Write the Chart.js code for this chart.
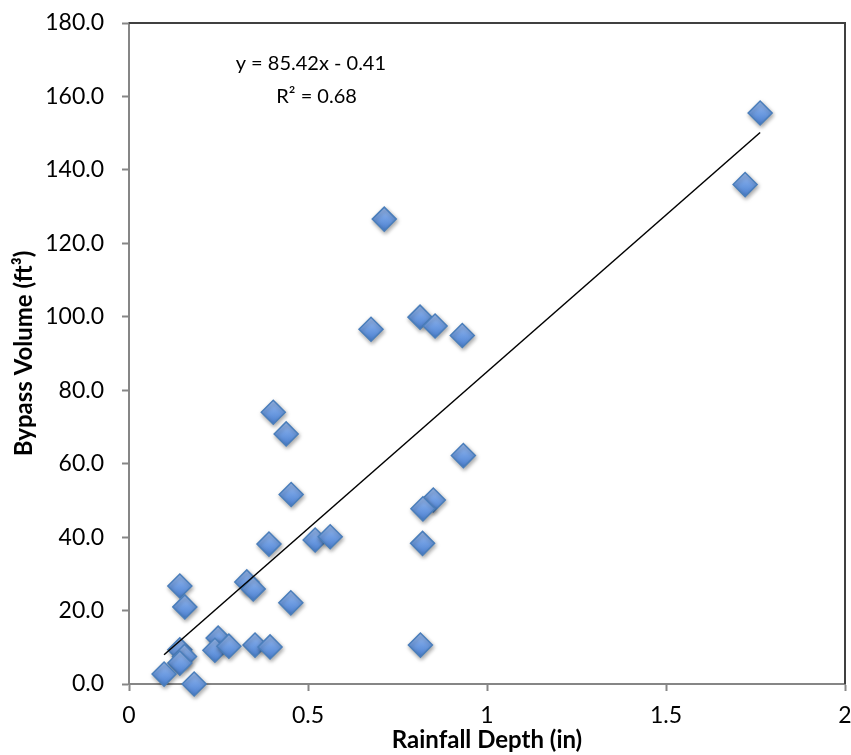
<!DOCTYPE html>
<html>
<head>
<meta charset="utf-8">
<title>Bypass Volume vs Rainfall Depth</title>
<script src="https://cdn.jsdelivr.net/npm/chart.js@4/dist/chart.umd.min.js"></script>
<style>
    html, body { margin: 0; padding: 0; background: #ffffff; }
    #wrap { width: 851px; height: 755px; }
</style>
</head>
<body>
<div id="wrap"><canvas id="chart-bypass" width="851" height="755"></canvas></div>
<script>
// ============================================================
// Data
// ============================================================
const rainfallDepth = [
    1.763, 1.721, 0.713, 0.676, 0.813, 0.855, 0.931, 0.403,
    0.439, 0.934, 0.453, 0.850, 0.821, 0.391, 0.820, 0.520,
    0.562, 0.329, 0.347, 0.142, 0.156, 0.452, 0.814, 0.352,
    0.394, 0.249, 0.240, 0.279, 0.142, 0.155, 0.142, 0.098, 0.182
];
const bypassVolume = [
    155.5, 136.0, 126.6, 96.6, 99.9, 97.5, 94.9, 74.0,
    68.1, 62.2, 51.6, 50.1, 47.7, 38.1, 38.3, 39.2,
    40.1, 27.8, 25.9, 26.7, 21.0, 22.1, 10.6, 10.6,
    10.1, 12.5, 9.2, 10.3, 9.3, 7.5, 5.7, 2.7, 0.0
];

// linear trendline (from the chart's equation)
const trendSlope = 85.42;
const trendIntercept = -0.41;
const trendLabels = ['y = 85.42x - 0.41', 'R\u00b2 = 0.68'];

const xTicks = [0, 0.5, 1, 1.5, 2];
const yTicks = [0, 20, 40, 60, 80, 100, 120, 140, 160, 180];

// ============================================================
// Build chart
// ============================================================
function buildPoints() {
    return rainfallDepth.map((x, i) => ({ x: x, y: bypassVolume[i] }));
}

function buildTrend() {
    const minX = Math.min(...rainfallDepth);
    const maxX = Math.max(...rainfallDepth);
    return [minX, maxX].map(x => ({ x: x, y: trendSlope * x + trendIntercept }));
}

// diamond fill: light blue on top, darker at the bottom
function diamondFill(context) {
    const chart = context.chart;
    if (!chart.chartArea || context.type !== 'data') return '#6b9be0';
    const y = chart.scales.y.getPixelForValue(context.raw.y);
    const g = chart.ctx.createLinearGradient(0, y - 12, 0, y + 12);
    g.addColorStop(0, '#9dbdf0');
    g.addColorStop(0.5, '#6f9de2');
    g.addColorStop(1, '#4a7fcf');
    return g;
}

// soft shadow under the diamonds
const shadowPlugin = {
    id: 'shadow',
    beforeDatasetDraw(chart, args) {
        if (args.index !== 1) return;
        const ctx = chart.ctx;
        ctx.save();
        ctx.shadowColor = 'rgba(0,0,0,0.35)';
        ctx.shadowBlur = 4;
        ctx.shadowOffsetX = 1;
        ctx.shadowOffsetY = 2;
    },
    afterDatasetDraw(chart, args) {
        if (args.index !== 1) return;
        chart.ctx.restore();
    }
};

// top and right edges of the plot area + trendline equation
const framePlugin = {
    id: 'frame',
    afterDraw(chart) {
        const ctx = chart.ctx;
        const a = chart.chartArea;
        ctx.save();
        ctx.strokeStyle = '#404040';
        ctx.lineWidth = 2;
        ctx.beginPath();
        ctx.moveTo(a.left, a.top);
        ctx.lineTo(a.right, a.top);
        ctx.lineTo(a.right, a.bottom);
        ctx.stroke();

        ctx.fillStyle = '#000000';
        ctx.font = '20px Lato, "Open Sans", sans-serif';
        ctx.textAlign = 'center';
        ctx.textBaseline = 'middle';
        const xs = chart.scales.x, ys = chart.scales.y;
        ctx.fillText(trendLabels[0], xs.getPixelForValue(0.508), ys.getPixelForValue(169.0));
        ctx.fillText(trendLabels[1], xs.getPixelForValue(0.524), ys.getPixelForValue(160.0));
        ctx.restore();
    }
};

function createChart() {
    const ctx = document.getElementById('chart-bypass').getContext('2d');
    const tickFont = { family: 'Lato, "Open Sans", sans-serif', size: 23 };
    const titleFont = { family: 'Lato, "Open Sans", sans-serif', size: 24, weight: 'bold' };

    new Chart(ctx, {
        type: 'scatter',
        data: {
            datasets: [{
                type: 'line',
                label: 'Linear',
                data: buildTrend(),
                borderColor: '#000000',
                borderWidth: 1.5,
                pointRadius: 0,
                fill: false
            }, {
                label: 'Bypass Volume',
                data: buildPoints(),
                pointStyle: 'rectRot',
                pointRadius: 12,
                pointHoverRadius: 12,
                pointBackgroundColor: diamondFill,
                pointBorderColor: '#4a7ebb',
                pointBorderWidth: 1.5,
                clip: false
            }]
        },
        options: {
            responsive: false,
            animation: false,
            layout: { autoPadding: false, padding: { left: 0, top: 23, right: 6, bottom: 0 } },
            plugins: {
                legend: { display: false },
                tooltip: { enabled: false }
            },
            scales: {
                x: {
                    type: 'linear',
                    min: 0,
                    max: 2,
                    afterBuildTicks: scale => { scale.ticks = xTicks.map(v => ({ value: v })); },
                    afterFit: scale => {
                        scale.height = 71;
                        scale.paddingLeft = 0;
                        scale.paddingRight = 0;
                    },
                    grid: { drawOnChartArea: false, tickLength: 7, tickColor: '#868686', tickWidth: 2 },
                    border: { color: '#868686', width: 2 },
                    ticks: { font: tickFont, color: '#000000', padding: 11, maxRotation: 0, callback: v => String(v) },
                    title: { display: true, text: 'Rainfall Depth (in)', font: titleFont, color: '#000000', padding: { top: 0, bottom: 0 } }
                },
                y: {
                    type: 'linear',
                    min: 0,
                    max: 180,
                    afterBuildTicks: scale => { scale.ticks = yTicks.map(v => ({ value: v })); },
                    afterFit: scale => {
                        scale.width = 129;
                        scale.paddingTop = 0;
                        scale.paddingBottom = 0;
                    },
                    grid: { drawOnChartArea: false, tickLength: 7, tickColor: '#868686', tickWidth: 2 },
                    border: { color: '#868686', width: 2 },
                    ticks: { font: tickFont, color: '#000000', padding: 18, callback: v => v.toFixed(1) },
                    title: { display: true, text: 'Bypass Volume (ft\u00b3)', font: titleFont, color: '#000000', padding: { top: 10, bottom: 0 } }
                }
            }
        },
        plugins: [shadowPlugin, framePlugin]
    });
}

document.addEventListener('DOMContentLoaded', createChart);
</script>
</body>
</html>
